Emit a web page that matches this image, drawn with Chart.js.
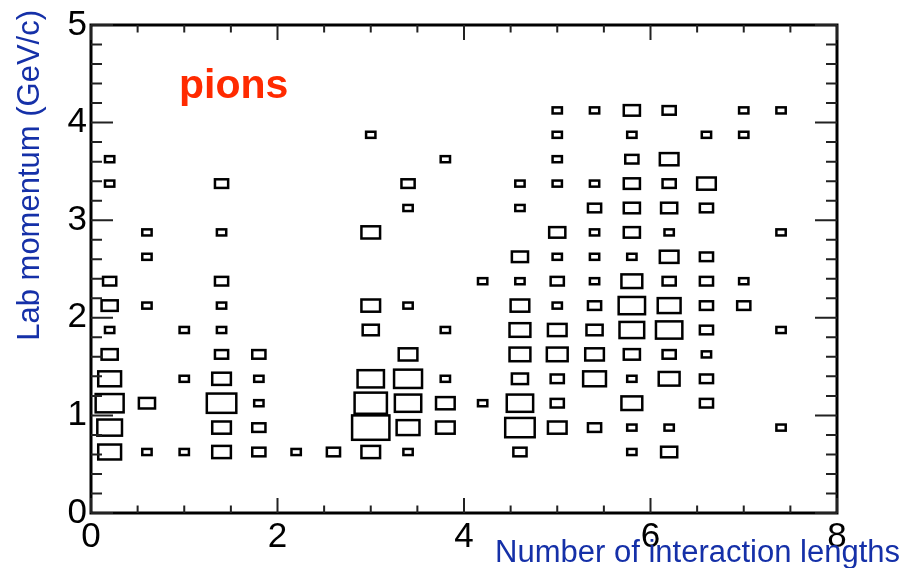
<!DOCTYPE html>
<html>
<head>
<meta charset="utf-8">
<script src="https://cdn.jsdelivr.net/npm/chart.js@4.4.1/dist/chart.umd.min.js"></script>
<style>
  html, body { margin: 0; padding: 0; background: #fff; }
  #wrap { width: 905px; height: 568px; }
</style>
</head>
<body>
<div id="wrap"><canvas id="boxChart" width="905" height="568"></canvas></div>
<script>
// 2D histogram, one entry per filled cell (bin centres + counts), grouped by x column
const cellX = [
  0.2, 0.2, 0.2, 0.2, 0.2, 0.2, 0.2, 0.2, 0.2, 0.2,
  0.6, 0.6, 0.6, 0.6, 0.6,
  1.0, 1.0, 1.0,
  1.4, 1.4, 1.4, 1.4, 1.4, 1.4, 1.4, 1.4, 1.4, 1.4,
  1.8, 1.8, 1.8, 1.8, 1.8,
  2.2,
  2.6,
  3.0, 3.0, 3.0, 3.0, 3.0, 3.0, 3.0, 3.0,
  3.4, 3.4, 3.4, 3.4, 3.4, 3.4, 3.4, 3.4,
  3.8, 3.8, 3.8, 3.8, 3.8,
  4.2, 4.2,
  4.6, 4.6, 4.6, 4.6, 4.6, 4.6, 4.6, 4.6, 4.6, 4.6, 4.6,
  5.0, 5.0, 5.0, 5.0, 5.0, 5.0, 5.0, 5.0, 5.0, 5.0, 5.0, 5.0, 5.0,
  5.4, 5.4, 5.4, 5.4, 5.4, 5.4, 5.4, 5.4, 5.4, 5.4, 5.4,
  5.8, 5.8, 5.8, 5.8, 5.8, 5.8, 5.8, 5.8, 5.8, 5.8, 5.8, 5.8, 5.8, 5.8, 5.8,
  6.2, 6.2, 6.2, 6.2, 6.2, 6.2, 6.2, 6.2, 6.2, 6.2, 6.2, 6.2, 6.2,
  6.6, 6.6, 6.6, 6.6, 6.6, 6.6, 6.6, 6.6, 6.6, 6.6,
  7.0, 7.0, 7.0, 7.0,
  7.4, 7.4, 7.4, 7.4
];
const cellY = [
  0.625, 0.875, 1.125, 1.375, 1.625, 1.875, 2.125, 2.375, 3.375, 3.625,
  0.625, 1.125, 2.125, 2.625, 2.875,
  0.625, 1.375, 1.875,
  0.625, 0.875, 1.125, 1.375, 1.625, 1.875, 2.125, 2.375, 2.875, 3.375,
  0.625, 0.875, 1.125, 1.375, 1.625,
  0.625,
  0.625,
  0.625, 0.875, 1.125, 1.375, 1.875, 2.125, 2.875, 3.875,
  0.625, 0.875, 1.125, 1.375, 1.625, 2.125, 3.125, 3.375,
  0.875, 1.125, 1.375, 1.875, 3.625,
  1.125, 2.375,
  0.625, 0.875, 1.125, 1.375, 1.625, 1.875, 2.125, 2.375, 2.625, 3.125, 3.375,
  0.875, 1.125, 1.375, 1.625, 1.875, 2.125, 2.375, 2.625, 2.875, 3.375, 3.625, 3.875, 4.125,
  0.875, 1.375, 1.625, 1.875, 2.125, 2.375, 2.625, 2.875, 3.125, 3.375, 4.125,
  0.625, 0.875, 1.125, 1.375, 1.625, 1.875, 2.125, 2.375, 2.625, 2.875, 3.125, 3.375, 3.625, 3.875, 4.125,
  0.625, 0.875, 1.375, 1.625, 1.875, 2.125, 2.375, 2.625, 2.875, 3.125, 3.375, 3.625, 4.125,
  1.125, 1.375, 1.625, 1.875, 2.125, 2.375, 2.625, 3.125, 3.375, 3.875,
  2.125, 2.375, 3.875, 4.125,
  0.875, 1.875, 2.875, 4.125
];
const cellN = [
  6, 7, 9, 6, 3, 1, 3, 2, 1, 1,
  1, 3, 1, 1, 1,
  1, 1, 1,
  4, 4, 10, 4, 2, 1, 1, 2, 1, 2,
  2, 2, 1, 1, 2,
  1,
  2,
  4, 16, 12, 8, 3, 4, 4, 1,
  1, 6, 8, 9, 4, 1, 1, 2,
  4, 4, 1, 1, 1,
  1, 1,
  2, 10, 8, 3, 5, 5, 4, 1, 3, 1, 1,
  4, 2, 2, 5, 4, 1, 2, 1, 3, 1, 1, 1, 1,
  2, 6, 4, 3, 2, 1, 1, 1, 2, 1, 1,
  1, 1, 5, 1, 3, 7, 8, 5, 1, 3, 3, 3, 2, 1, 3,
  3, 1, 5, 2, 8, 6, 2, 4, 1, 3, 2, 4, 2,
  2, 2, 1, 2, 2, 2, 2, 2, 4, 1,
  2, 1, 1, 1,
  1, 1, 1, 1
];

const binW = 0.4;
const binH = 0.25;
const maxCount = Math.max(...cellN);

const xTitle = 'Number of interaction lengths';
const yTitle = 'Lab momentum (GeV/c)';
const label = 'pions';

const font = '"Liberation Sans", Arial, Helvetica, sans-serif';
const blue = '#1530a8';

// ROOT-style "box" drawing: box side ~ sqrt(content / max)
const boxPlugin = {
  id: 'rootBoxes',
  afterDatasetsDraw(chart) {
    const { ctx, chartArea: a, scales: { x, y } } = chart;
    const pts = chart.data.datasets[0].data;
    ctx.save();
    ctx.strokeStyle = '#000';
    ctx.lineWidth = 2.5;
    pts.forEach(p => {
      const f = Math.sqrt(p.n / maxCount);
      const x0 = x.getPixelForValue(p.x - f * binW / 2);
      const x1 = x.getPixelForValue(p.x + f * binW / 2);
      const y0 = y.getPixelForValue(p.y + f * binH / 2);
      const y1 = y.getPixelForValue(p.y - f * binH / 2);
      ctx.strokeRect(x0, y0, x1 - x0, y1 - y0);
    });

    // frame
    ctx.lineWidth = 3;
    ctx.strokeRect(a.left, a.top, a.right - a.left, a.bottom - a.top);

    // inward ticks on all four sides
    ctx.lineWidth = 2;
    ctx.strokeStyle = '#222';
    ctx.beginPath();
    for (let i = 0; i <= 16; i++) {
      const v = i * 0.5;
      const px = x.getPixelForValue(v);
      const len = i % 4 === 0 ? 15 : 7.5;
      ctx.moveTo(px, a.bottom); ctx.lineTo(px, a.bottom - len);
      ctx.moveTo(px, a.top); ctx.lineTo(px, a.top + len);
    }
    for (let i = 0; i <= 25; i++) {
      const v = i * 0.2;
      const py = y.getPixelForValue(v);
      const len = i % 5 === 0 ? 22 : 11;
      ctx.moveTo(a.left, py); ctx.lineTo(a.left + len, py);
      ctx.moveTo(a.right, py); ctx.lineTo(a.right - len, py);
    }
    ctx.stroke();
    ctx.restore();
  },
  afterDraw(chart) {
    const { ctx } = chart;
    ctx.save();
    ctx.fillStyle = blue;
    ctx.font = '31px ' + font;
    ctx.textAlign = 'right';
    ctx.textBaseline = 'alphabetic';
    ctx.fillText(xTitle, 900, 562);

    ctx.translate(39, 10);
    ctx.rotate(-Math.PI / 2);
    ctx.fillText(yTitle, 0, 0);
    ctx.restore();

    ctx.save();
    ctx.fillStyle = '#ff2a00';
    ctx.font = 'bold 41px ' + font;
    ctx.textAlign = 'left';
    ctx.fillText(label, 179, 98);
    ctx.restore();
  }
};

const ctx = document.getElementById('boxChart').getContext('2d');

const boxChart = new Chart(ctx, {
  type: 'scatter',
  data: {
    datasets: [{
      data: cellX.map((x, i) => ({ x: x, y: cellY[i], n: cellN[i] })),
      pointRadius: 0,
      pointHoverRadius: 0
    }]
  },
  options: {
    responsive: false,
    animation: false,
    devicePixelRatio: 1,
    layout: { padding: { left: 0, top: 22, right: 68, bottom: 0 } },
    plugins: {
      legend: { display: false },
      tooltip: { enabled: false }
    },
    scales: {
      x: {
        type: 'linear',
        min: 0,
        max: 8,
        grid: { display: false, drawTicks: false },
        border: { display: false },
        ticks: {
          stepSize: 2,
          padding: 3,
          color: '#000',
          font: { family: font, size: 35 },
          maxRotation: 0
        },
        afterFit: s => { s.height = 55; }
      },
      y: {
        type: 'linear',
        min: 0,
        max: 5,
        grid: { display: false, drawTicks: false },
        border: { display: false },
        ticks: {
          stepSize: 1,
          padding: 4,
          color: '#000',
          font: { family: font, size: 35 }
        },
        afterFit: s => { s.width = 91; }
      }
    }
  },
  plugins: [boxPlugin]
});
</script>
</body>
</html>
